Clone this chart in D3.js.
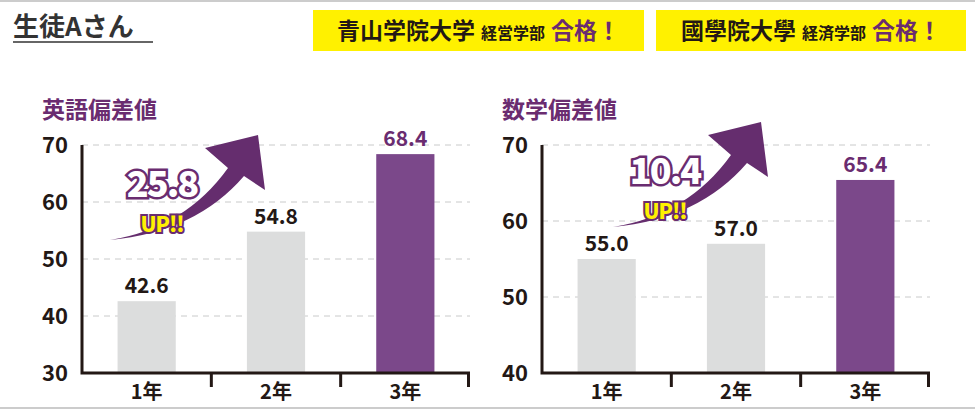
<!DOCTYPE html>
<html><head><meta charset="utf-8">
<script src="https://cdn.jsdelivr.net/npm/d3@7"></script>
<style>body{margin:0;background:#fff}svg{display:block;font-family:"Noto Sans CJK JP",sans-serif}</style>
</head><body><svg width="975" height="409"></svg>
<script>
const years = ['1年', '2年', '3年']
const english = [42.6, 54.8, 68.4]
const math = [55.0, 57.0, 65.4]
const englishTicks = [30, 40, 50, 60, 70]
const mathTicks = [40, 50, 60, 70]
const englishUp = '25.8'
const mathUp = '10.4'

const svg = d3.select('svg')
const purple = '#6a2c70'

// frame lines
svg.append('line').attr('x1', 0).attr('x2', 975).attr('y1', 1).attr('y2', 1).attr('stroke', '#ccc').attr('stroke-width', 2)
svg.append('line').attr('x1', 0).attr('x2', 975).attr('y1', 408).attr('y2', 408).attr('stroke', '#ccc').attr('stroke-width', 2)

// header
svg.append('text').attr('x', 13).attr('y', 36).attr('font-size', 26).attr('font-weight', 700).attr('fill', '#333').text('生徒Aさん')
svg.append('line').attr('x1', 13).attr('x2', 153).attr('y1', 42).attr('y2', 42).attr('stroke', '#333').attr('stroke-width', 1.5)

const badges = [
  { x: 313, w: 331, uni: '青山学院大学', dept: '経営学部' },
  { x: 656, w: 310, uni: '國學院大學', dept: '経済学部' },
]
badges.forEach(b => {
  svg.append('rect').attr('x', b.x).attr('y', 10).attr('width', b.w).attr('height', 41).attr('fill', '#fff100')
  const t = svg.append('text').attr('x', b.x + b.w / 2).attr('y', 39).attr('text-anchor', 'middle').attr('font-weight', 700)
  t.append('tspan').attr('font-size', 23).attr('fill', '#231815').text(b.uni)
  t.append('tspan').attr('font-size', 16).attr('fill', '#231815').attr('dx', 6).text(b.dept)
  t.append('tspan').attr('font-size', 23).attr('fill', purple).attr('dx', 6).text('合格！')
})

const drawChart = (left, title, values, ticks, up, arrowDx, arrowDy) => {
  const x = d3.scaleBand().domain(years).range([left, left + 388]).paddingInner(0.55).paddingOuter(0.275)
  const y = d3.scaleLinear().domain([ticks[0], 70]).range([373, 145])
  const g = svg.append('g')

  g.append('text').attr('x', left - 40).attr('y', 118).attr('font-size', 23).attr('font-weight', 700).attr('fill', purple).text(title)

  // gridlines
  g.selectAll('.grid').data(ticks.slice(1)).join('line')
    .attr('x1', left).attr('x2', left + 388).attr('y1', d => y(d)).attr('y2', d => y(d))
    .attr('stroke', '#c9caca').attr('stroke-dasharray', '6,5')

  g.selectAll('.tick').data(ticks).join('text')
    .attr('x', left - 14).attr('y', d => y(d) + 8).attr('text-anchor', 'end')
    .attr('font-size', 22).attr('font-weight', 700).attr('fill', '#231815').text(d => d)

  g.selectAll('.bar').data(values).join('rect')
    .attr('x', (d, i) => x(years[i])).attr('width', x.bandwidth())
    .attr('y', d => y(d)).attr('height', d => y(ticks[0]) - y(d))
    .attr('fill', (d, i) => i === 2 ? '#7b488a' : '#dcdddd')

  g.selectAll('.val').data(values).join('text')
    .attr('x', (d, i) => x(years[i]) + x.bandwidth() / 2).attr('y', d => y(d) - 8)
    .attr('text-anchor', 'middle').attr('font-size', 21).attr('font-weight', 700)
    .attr('fill', (d, i) => i === 2 ? purple : '#231815').text(d => d.toFixed(1))

  // axes
  g.append('path').attr('d', `M${left},145V373H${left + 388}`).attr('fill', 'none').attr('stroke', '#231815').attr('stroke-width', 3)
  const step = x.step()
  ;[1, 2, 3].forEach(i => {
    g.append('line').attr('x1', left + step * i - (i === 3 ? 1.5 : 0)).attr('x2', left + step * i - (i === 3 ? 1.5 : 0))
      .attr('y1', 373).attr('y2', 387).attr('stroke', '#231815').attr('stroke-width', 3)
  })
  g.selectAll('.cat').data(years).join('text')
    .attr('x', d => x(d) + x.bandwidth() / 2).attr('y', 399).attr('text-anchor', 'middle')
    .attr('font-size', 20).attr('font-weight', 700).attr('fill', '#231815').text(d => d)

  // arrow
  const a = g.append('g').attr('transform', `translate(${arrowDx},${arrowDy})`)
  a.append('path')
    .attr('d', 'M110,240 Q185,228 228,168 L205,148 L258,135 L265,190 L244,176 Q196,232 110,240 Z')
    .attr('fill', '#652d6e')
  a.append('text').attr('x', 162).attr('y', 197).attr('text-anchor', 'middle')
    .attr('font-size', 36).attr('font-weight', 900).attr('letter-spacing', -2)
    .attr('fill', '#fff').attr('stroke', purple).attr('stroke-width', 5).attr('paint-order', 'stroke')
    .text(up)
  a.append('text').attr('x', 162).attr('y', 232).attr('text-anchor', 'middle')
    .attr('font-size', 21).attr('font-weight', 900).attr('letter-spacing', -1)
    .attr('fill', '#fff100').attr('stroke', purple).attr('stroke-width', 4).attr('paint-order', 'stroke')
    .text('UP!!')
}

drawChart(82, '英語偏差値', english, englishTicks, englishUp, 0, 0)
drawChart(542, '数学偏差値', math, mathTicks, mathUp, 503, -13)
</script></body></html>
